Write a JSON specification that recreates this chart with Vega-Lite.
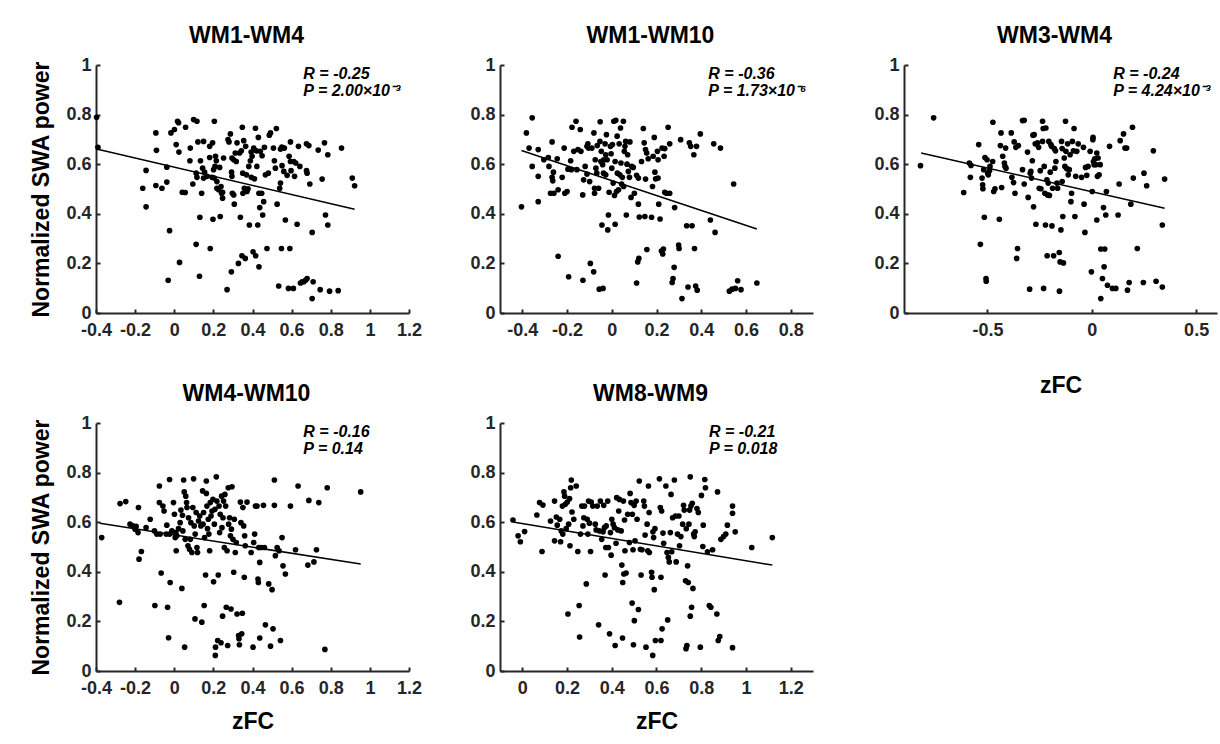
{
"$schema": "https://vega.github.io/schema/vega-lite/v6.json",
"background": "white",
"padding": {"left": 30, "top": 25, "right": 5, "bottom": 5},
"datasets": {
"p1": [{"x":-0.397,"y":0.789},{"x":-0.39,"y":0.668},{"x":-0.161,"y":0.503},{"x":-0.144,"y":0.575},{"x":-0.144,"y":0.428},{"x":-0.094,"y":0.726},{"x":-0.091,"y":0.656},{"x":-0.094,"y":0.514},{"x":-0.063,"y":0.503},{"x":-0.038,"y":0.588},{"x":-0.038,"y":0.528},{"x":-0.031,"y":0.132},{"x":-0.024,"y":0.332},{"x":-0.017,"y":0.726},{"x":0.001,"y":0.74},{"x":0.01,"y":0.679},{"x":0.024,"y":0.649},{"x":0.017,"y":0.773},{"x":0.022,"y":0.767},{"x":0.027,"y":0.204},{"x":0.041,"y":0.487},{"x":0.056,"y":0.486},{"x":0.058,"y":0.749},{"x":0.082,"y":0.665},{"x":0.08,"y":0.614},{"x":0.095,"y":0.52},{"x":0.099,"y":0.78},{"x":0.116,"y":0.773},{"x":0.112,"y":0.277},{"x":0.116,"y":0.547},{"x":0.112,"y":0.564},{"x":0.121,"y":0.69},{"x":0.129,"y":0.148},{"x":0.131,"y":0.386},{"x":0.134,"y":0.614},{"x":0.14,"y":0.483},{"x":0.15,"y":0.692},{"x":0.145,"y":0.584},{"x":0.155,"y":0.568},{"x":0.15,"y":0.544},{"x":0.167,"y":0.551},{"x":0.181,"y":0.627},{"x":0.181,"y":0.672},{"x":0.184,"y":0.26},{"x":0.193,"y":0.547},{"x":0.196,"y":0.686},{"x":0.198,"y":0.378},{"x":0.201,"y":0.578},{"x":0.205,"y":0.773},{"x":0.205,"y":0.544},{"x":0.208,"y":0.591},{"x":0.211,"y":0.632},{"x":0.215,"y":0.614},{"x":0.218,"y":0.53},{"x":0.218,"y":0.503},{"x":0.227,"y":0.497},{"x":0.232,"y":0.587},{"x":0.235,"y":0.389},{"x":0.239,"y":0.51},{"x":0.242,"y":0.483},{"x":0.247,"y":0.463},{"x":0.247,"y":0.487},{"x":0.252,"y":0.625},{"x":0.27,"y":0.094},{"x":0.275,"y":0.699},{"x":0.28,"y":0.69},{"x":0.287,"y":0.722},{"x":0.292,"y":0.166},{"x":0.295,"y":0.625},{"x":0.293,"y":0.568},{"x":0.295,"y":0.551},{"x":0.297,"y":0.483},{"x":0.304,"y":0.618},{"x":0.304,"y":0.476},{"x":0.307,"y":0.439},{"x":0.312,"y":0.645},{"x":0.317,"y":0.611},{"x":0.321,"y":0.686},{"x":0.328,"y":0.2},{"x":0.334,"y":0.645},{"x":0.338,"y":0.386},{"x":0.343,"y":0.654},{"x":0.346,"y":0.231},{"x":0.348,"y":0.749},{"x":0.35,"y":0.564},{"x":0.351,"y":0.483},{"x":0.355,"y":0.695},{"x":0.358,"y":0.503},{"x":0.363,"y":0.22},{"x":0.365,"y":0.672},{"x":0.369,"y":0.557},{"x":0.372,"y":0.49},{"x":0.377,"y":0.501},{"x":0.381,"y":0.591},{"x":0.384,"y":0.355},{"x":0.389,"y":0.614},{"x":0.393,"y":0.649},{"x":0.394,"y":0.547},{"x":0.398,"y":0.632},{"x":0.403,"y":0.247},{"x":0.406,"y":0.665},{"x":0.41,"y":0.541},{"x":0.415,"y":0.745},{"x":0.416,"y":0.231},{"x":0.42,"y":0.654},{"x":0.422,"y":0.591},{"x":0.427,"y":0.355},{"x":0.43,"y":0.708},{"x":0.433,"y":0.186},{"x":0.433,"y":0.483},{"x":0.437,"y":0.425},{"x":0.44,"y":0.652},{"x":0.447,"y":0.483},{"x":0.449,"y":0.634},{"x":0.452,"y":0.395},{"x":0.457,"y":0.449},{"x":0.461,"y":0.668},{"x":0.466,"y":0.557},{"x":0.474,"y":0.26},{"x":0.481,"y":0.564},{"x":0.486,"y":0.717},{"x":0.492,"y":0.726},{"x":0.507,"y":0.665},{"x":0.512,"y":0.614},{"x":0.517,"y":0.584},{"x":0.522,"y":0.744},{"x":0.526,"y":0.439},{"x":0.534,"y":0.109},{"x":0.539,"y":0.503},{"x":0.543,"y":0.661},{"x":0.543,"y":0.524},{"x":0.548,"y":0.26},{"x":0.55,"y":0.669},{"x":0.551,"y":0.594},{"x":0.56,"y":0.571},{"x":0.563,"y":0.665},{"x":0.568,"y":0.375},{"x":0.577,"y":0.555},{"x":0.584,"y":0.099},{"x":0.587,"y":0.632},{"x":0.591,"y":0.26},{"x":0.594,"y":0.69},{"x":0.594,"y":0.611},{"x":0.597,"y":0.574},{"x":0.609,"y":0.099},{"x":0.611,"y":0.611},{"x":0.615,"y":0.551},{"x":0.621,"y":0.605},{"x":0.628,"y":0.358},{"x":0.635,"y":0.672},{"x":0.642,"y":0.591},{"x":0.645,"y":0.121},{"x":0.654,"y":0.126},{"x":0.662,"y":0.126},{"x":0.671,"y":0.132},{"x":0.679,"y":0.139},{"x":0.676,"y":0.682},{"x":0.676,"y":0.574},{"x":0.688,"y":0.675},{"x":0.679,"y":0.564},{"x":0.693,"y":0.52},{"x":0.705,"y":0.325},{"x":0.705,"y":0.058},{"x":0.71,"y":0.126},{"x":0.736,"y":0.657},{"x":0.746,"y":0.094},{"x":0.756,"y":0.54},{"x":0.768,"y":0.686},{"x":0.773,"y":0.395},{"x":0.785,"y":0.638},{"x":0.785,"y":0.355},{"x":0.794,"y":0.088},{"x":0.838,"y":0.09},{"x":0.855,"y":0.665},{"x":0.91,"y":0.544},{"x":0.922,"y":0.513}],
"p2": [{"x":-0.404,"y":0.428},{"x":-0.382,"y":0.726},{"x":-0.37,"y":0.665},{"x":-0.356,"y":0.787},{"x":-0.356,"y":0.591},{"x":-0.329,"y":0.659},{"x":-0.329,"y":0.551},{"x":-0.329,"y":0.449},{"x":-0.304,"y":0.618},{"x":-0.284,"y":0.627},{"x":-0.281,"y":0.591},{"x":-0.274,"y":0.483},{"x":-0.267,"y":0.69},{"x":-0.267,"y":0.547},{"x":-0.264,"y":0.533},{"x":-0.261,"y":0.568},{"x":-0.259,"y":0.483},{"x":-0.244,"y":0.622},{"x":-0.24,"y":0.497},{"x":-0.24,"y":0.229},{"x":-0.222,"y":0.547},{"x":-0.213,"y":0.665},{"x":-0.21,"y":0.483},{"x":-0.2,"y":0.49},{"x":-0.196,"y":0.58},{"x":-0.193,"y":0.146},{"x":-0.184,"y":0.614},{"x":-0.181,"y":0.578},{"x":-0.178,"y":0.749},{"x":-0.17,"y":0.652},{"x":-0.16,"y":0.773},{"x":-0.156,"y":0.578},{"x":-0.151,"y":0.659},{"x":-0.141,"y":0.74},{"x":-0.138,"y":0.652},{"x":-0.13,"y":0.476},{"x":-0.129,"y":0.132},{"x":-0.126,"y":0.537},{"x":-0.119,"y":0.591},{"x":-0.111,"y":0.56},{"x":-0.111,"y":0.672},{"x":-0.107,"y":0.682},{"x":-0.104,"y":0.665},{"x":-0.099,"y":0.53},{"x":-0.096,"y":0.2},{"x":-0.089,"y":0.665},{"x":-0.081,"y":0.166},{"x":-0.08,"y":0.726},{"x":-0.077,"y":0.503},{"x":-0.077,"y":0.483},{"x":-0.074,"y":0.618},{"x":-0.071,"y":0.584},{"x":-0.067,"y":0.564},{"x":-0.065,"y":0.675},{"x":-0.059,"y":0.503},{"x":-0.056,"y":0.096},{"x":-0.053,"y":0.692},{"x":-0.052,"y":0.771},{"x":-0.049,"y":0.611},{"x":-0.047,"y":0.652},{"x":-0.044,"y":0.355},{"x":-0.041,"y":0.598},{"x":-0.039,"y":0.099},{"x":-0.037,"y":0.564},{"x":-0.036,"y":0.618},{"x":-0.03,"y":0.682},{"x":-0.027,"y":0.638},{"x":-0.027,"y":0.557},{"x":-0.024,"y":0.719},{"x":-0.021,"y":0.618},{"x":-0.018,"y":0.335},{"x":-0.015,"y":0.395},{"x":-0.012,"y":0.487},{"x":-0.006,"y":0.672},{"x":-0.003,"y":0.642},{"x":0.0,"y":0.584},{"x":0.003,"y":0.679},{"x":0.006,"y":0.524},{"x":0.009,"y":0.773},{"x":0.012,"y":0.474},{"x":0.015,"y":0.358},{"x":0.015,"y":0.611},{"x":0.018,"y":0.777},{"x":0.021,"y":0.49},{"x":0.024,"y":0.713},{"x":0.025,"y":0.564},{"x":0.03,"y":0.497},{"x":0.033,"y":0.682},{"x":0.036,"y":0.557},{"x":0.039,"y":0.746},{"x":0.041,"y":0.605},{"x":0.044,"y":0.52},{"x":0.047,"y":0.547},{"x":0.052,"y":0.773},{"x":0.053,"y":0.51},{"x":0.056,"y":0.652},{"x":0.059,"y":0.672},{"x":0.062,"y":0.692},{"x":0.065,"y":0.395},{"x":0.068,"y":0.6},{"x":0.071,"y":0.638},{"x":0.074,"y":0.571},{"x":0.079,"y":0.547},{"x":0.081,"y":0.69},{"x":0.086,"y":0.466},{"x":0.089,"y":0.591},{"x":0.096,"y":0.587},{"x":0.101,"y":0.483},{"x":0.111,"y":0.555},{"x":0.111,"y":0.121},{"x":0.116,"y":0.206},{"x":0.119,"y":0.544},{"x":0.119,"y":0.439},{"x":0.121,"y":0.22},{"x":0.123,"y":0.387},{"x":0.133,"y":0.611},{"x":0.141,"y":0.744},{"x":0.145,"y":0.686},{"x":0.148,"y":0.389},{"x":0.151,"y":0.54},{"x":0.151,"y":0.659},{"x":0.156,"y":0.645},{"x":0.157,"y":0.256},{"x":0.163,"y":0.622},{"x":0.178,"y":0.386},{"x":0.182,"y":0.51},{"x":0.185,"y":0.632},{"x":0.19,"y":0.708},{"x":0.193,"y":0.568},{"x":0.196,"y":0.541},{"x":0.204,"y":0.652},{"x":0.207,"y":0.618},{"x":0.207,"y":0.544},{"x":0.21,"y":0.439},{"x":0.216,"y":0.379},{"x":0.222,"y":0.25},{"x":0.225,"y":0.665},{"x":0.228,"y":0.238},{"x":0.231,"y":0.258},{"x":0.234,"y":0.632},{"x":0.237,"y":0.663},{"x":0.237,"y":0.487},{"x":0.244,"y":0.483},{"x":0.252,"y":0.749},{"x":0.259,"y":0.483},{"x":0.259,"y":0.682},{"x":0.27,"y":0.123},{"x":0.274,"y":0.139},{"x":0.279,"y":0.184},{"x":0.281,"y":0.425},{"x":0.299,"y":0.274},{"x":0.301,"y":0.26},{"x":0.308,"y":0.699},{"x":0.314,"y":0.058},{"x":0.335,"y":0.352},{"x":0.341,"y":0.105},{"x":0.347,"y":0.686},{"x":0.353,"y":0.672},{"x":0.359,"y":0.352},{"x":0.367,"y":0.638},{"x":0.37,"y":0.26},{"x":0.375,"y":0.109},{"x":0.379,"y":0.672},{"x":0.382,"y":0.092},{"x":0.396,"y":0.722},{"x":0.441,"y":0.375},{"x":0.456,"y":0.682},{"x":0.462,"y":0.325},{"x":0.486,"y":0.665},{"x":0.526,"y":0.088},{"x":0.538,"y":0.096},{"x":0.545,"y":0.52},{"x":0.553,"y":0.099},{"x":0.563,"y":0.13},{"x":0.578,"y":0.094},{"x":0.649,"y":0.121}],
"p3": [{"x":-0.821,"y":0.594},{"x":-0.758,"y":0.787},{"x":-0.614,"y":0.486},{"x":-0.587,"y":0.605},{"x":-0.582,"y":0.547},{"x":-0.579,"y":0.595},{"x":-0.542,"y":0.679},{"x":-0.534,"y":0.277},{"x":-0.526,"y":0.544},{"x":-0.523,"y":0.517},{"x":-0.522,"y":0.501},{"x":-0.518,"y":0.578},{"x":-0.515,"y":0.386},{"x":-0.512,"y":0.627},{"x":-0.507,"y":0.139},{"x":-0.506,"y":0.128},{"x":-0.502,"y":0.618},{"x":-0.499,"y":0.564},{"x":-0.496,"y":0.557},{"x":-0.49,"y":0.574},{"x":-0.488,"y":0.591},{"x":-0.475,"y":0.611},{"x":-0.474,"y":0.769},{"x":-0.47,"y":0.49},{"x":-0.464,"y":0.501},{"x":-0.443,"y":0.378},{"x":-0.438,"y":0.675},{"x":-0.435,"y":0.726},{"x":-0.432,"y":0.506},{"x":-0.427,"y":0.632},{"x":-0.419,"y":0.605},{"x":-0.416,"y":0.591},{"x":-0.413,"y":0.665},{"x":-0.411,"y":0.584},{"x":-0.386,"y":0.726},{"x":-0.383,"y":0.547},{"x":-0.375,"y":0.526},{"x":-0.372,"y":0.69},{"x":-0.368,"y":0.483},{"x":-0.364,"y":0.668},{"x":-0.36,"y":0.22},{"x":-0.356,"y":0.26},{"x":-0.352,"y":0.675},{"x":-0.332,"y":0.578},{"x":-0.332,"y":0.776},{"x":-0.324,"y":0.777},{"x":-0.324,"y":0.52},{"x":-0.308,"y":0.649},{"x":-0.305,"y":0.466},{"x":-0.298,"y":0.096},{"x":-0.295,"y":0.564},{"x":-0.292,"y":0.571},{"x":-0.289,"y":0.544},{"x":-0.285,"y":0.614},{"x":-0.282,"y":0.717},{"x":-0.279,"y":0.428},{"x":-0.276,"y":0.719},{"x":-0.271,"y":0.682},{"x":-0.268,"y":0.358},{"x":-0.26,"y":0.686},{"x":-0.255,"y":0.668},{"x":-0.252,"y":0.503},{"x":-0.247,"y":0.574},{"x":-0.244,"y":0.501},{"x":-0.236,"y":0.773},{"x":-0.236,"y":0.692},{"x":-0.233,"y":0.744},{"x":-0.231,"y":0.099},{"x":-0.228,"y":0.591},{"x":-0.225,"y":0.483},{"x":-0.222,"y":0.355},{"x":-0.22,"y":0.746},{"x":-0.215,"y":0.537},{"x":-0.214,"y":0.231},{"x":-0.212,"y":0.476},{"x":-0.209,"y":0.524},{"x":-0.206,"y":0.692},{"x":-0.203,"y":0.474},{"x":-0.199,"y":0.568},{"x":-0.196,"y":0.679},{"x":-0.193,"y":0.672},{"x":-0.191,"y":0.351},{"x":-0.188,"y":0.503},{"x":-0.183,"y":0.231},{"x":-0.18,"y":0.663},{"x":-0.177,"y":0.584},{"x":-0.174,"y":0.654},{"x":-0.172,"y":0.611},{"x":-0.167,"y":0.524},{"x":-0.164,"y":0.503},{"x":-0.156,"y":0.244},{"x":-0.155,"y":0.088},{"x":-0.152,"y":0.206},{"x":-0.148,"y":0.335},{"x":-0.145,"y":0.692},{"x":-0.142,"y":0.53},{"x":-0.142,"y":0.663},{"x":-0.139,"y":0.389},{"x":-0.136,"y":0.202},{"x":-0.132,"y":0.625},{"x":-0.129,"y":0.591},{"x":-0.126,"y":0.773},{"x":-0.124,"y":0.652},{"x":-0.12,"y":0.582},{"x":-0.116,"y":0.682},{"x":-0.113,"y":0.557},{"x":-0.108,"y":0.578},{"x":-0.104,"y":0.638},{"x":-0.1,"y":0.449},{"x":-0.097,"y":0.483},{"x":-0.093,"y":0.692},{"x":-0.088,"y":0.654},{"x":-0.085,"y":0.744},{"x":-0.081,"y":0.389},{"x":-0.077,"y":0.551},{"x":-0.072,"y":0.652},{"x":-0.065,"y":0.682},{"x":-0.049,"y":0.547},{"x":-0.04,"y":0.668},{"x":-0.037,"y":0.439},{"x":-0.033,"y":0.325},{"x":-0.03,"y":0.587},{"x":-0.024,"y":0.555},{"x":-0.018,"y":0.591},{"x":-0.008,"y":0.652},{"x":-0.002,"y":0.166},{"x":0.002,"y":0.49},{"x":0.005,"y":0.699},{"x":0.006,"y":0.708},{"x":0.008,"y":0.611},{"x":0.011,"y":0.598},{"x":0.014,"y":0.622},{"x":0.019,"y":0.598},{"x":0.024,"y":0.375},{"x":0.024,"y":0.645},{"x":0.027,"y":0.551},{"x":0.03,"y":0.625},{"x":0.035,"y":0.557},{"x":0.04,"y":0.598},{"x":0.043,"y":0.058},{"x":0.043,"y":0.258},{"x":0.051,"y":0.139},{"x":0.056,"y":0.425},{"x":0.059,"y":0.186},{"x":0.062,"y":0.258},{"x":0.067,"y":0.395},{"x":0.07,"y":0.49},{"x":0.075,"y":0.112},{"x":0.085,"y":0.672},{"x":0.099,"y":0.099},{"x":0.115,"y":0.099},{"x":0.126,"y":0.395},{"x":0.131,"y":0.52},{"x":0.136,"y":0.695},{"x":0.152,"y":0.722},{"x":0.159,"y":0.665},{"x":0.167,"y":0.665},{"x":0.171,"y":0.092},{"x":0.179,"y":0.123},{"x":0.187,"y":0.439},{"x":0.195,"y":0.749},{"x":0.199,"y":0.544},{"x":0.218,"y":0.26},{"x":0.247,"y":0.123},{"x":0.25,"y":0.564},{"x":0.263,"y":0.513},{"x":0.295,"y":0.654},{"x":0.308,"y":0.128},{"x":0.338,"y":0.355},{"x":0.338,"y":0.105},{"x":0.349,"y":0.54}],
"p4": [{"x":-0.371,"y":0.538},{"x":-0.28,"y":0.277},{"x":-0.277,"y":0.675},{"x":-0.248,"y":0.683},{"x":-0.226,"y":0.592},{"x":-0.212,"y":0.585},{"x":-0.2,"y":0.572},{"x":-0.195,"y":0.583},{"x":-0.185,"y":0.558},{"x":-0.183,"y":0.659},{"x":-0.18,"y":0.451},{"x":-0.168,"y":0.482},{"x":-0.144,"y":0.578},{"x":-0.123,"y":0.612},{"x":-0.101,"y":0.565},{"x":-0.099,"y":0.264},{"x":-0.089,"y":0.552},{"x":-0.076,"y":0.746},{"x":-0.076,"y":0.679},{"x":-0.072,"y":0.552},{"x":-0.067,"y":0.395},{"x":-0.058,"y":0.665},{"x":-0.052,"y":0.645},{"x":-0.041,"y":0.552},{"x":-0.038,"y":0.588},{"x":-0.034,"y":0.257},{"x":-0.029,"y":0.134},{"x":-0.024,"y":0.772},{"x":-0.024,"y":0.552},{"x":-0.021,"y":0.357},{"x":-0.012,"y":0.565},{"x":-0.004,"y":0.679},{"x":0.001,"y":0.632},{"x":0.005,"y":0.538},{"x":0.008,"y":0.558},{"x":0.01,"y":0.485},{"x":0.013,"y":0.545},{"x":0.022,"y":0.574},{"x":0.03,"y":0.598},{"x":0.034,"y":0.649},{"x":0.039,"y":0.333},{"x":0.042,"y":0.628},{"x":0.044,"y":0.565},{"x":0.048,"y":0.77},{"x":0.051,"y":0.722},{"x":0.053,"y":0.096},{"x":0.056,"y":0.531},{"x":0.059,"y":0.705},{"x":0.063,"y":0.679},{"x":0.065,"y":0.659},{"x":0.07,"y":0.505},{"x":0.073,"y":0.618},{"x":0.078,"y":0.491},{"x":0.082,"y":0.531},{"x":0.085,"y":0.598},{"x":0.09,"y":0.478},{"x":0.095,"y":0.659},{"x":0.099,"y":0.775},{"x":0.102,"y":0.585},{"x":0.106,"y":0.21},{"x":0.107,"y":0.552},{"x":0.112,"y":0.639},{"x":0.116,"y":0.498},{"x":0.119,"y":0.478},{"x":0.124,"y":0.605},{"x":0.13,"y":0.625},{"x":0.136,"y":0.585},{"x":0.141,"y":0.197},{"x":0.145,"y":0.726},{"x":0.147,"y":0.592},{"x":0.15,"y":0.639},{"x":0.153,"y":0.264},{"x":0.155,"y":0.538},{"x":0.16,"y":0.387},{"x":0.164,"y":0.766},{"x":0.164,"y":0.716},{"x":0.167,"y":0.665},{"x":0.17,"y":0.574},{"x":0.174,"y":0.612},{"x":0.177,"y":0.552},{"x":0.181,"y":0.485},{"x":0.184,"y":0.679},{"x":0.188,"y":0.625},{"x":0.193,"y":0.645},{"x":0.198,"y":0.692},{"x":0.201,"y":0.36},{"x":0.205,"y":0.592},{"x":0.208,"y":0.652},{"x":0.21,"y":0.063},{"x":0.211,"y":0.096},{"x":0.215,"y":0.783},{"x":0.218,"y":0.685},{"x":0.222,"y":0.123},{"x":0.225,"y":0.387},{"x":0.229,"y":0.665},{"x":0.232,"y":0.558},{"x":0.235,"y":0.632},{"x":0.239,"y":0.114},{"x":0.242,"y":0.705},{"x":0.244,"y":0.578},{"x":0.247,"y":0.221},{"x":0.249,"y":0.618},{"x":0.252,"y":0.685},{"x":0.256,"y":0.498},{"x":0.259,"y":0.712},{"x":0.263,"y":0.665},{"x":0.266,"y":0.257},{"x":0.27,"y":0.485},{"x":0.273,"y":0.103},{"x":0.276,"y":0.739},{"x":0.278,"y":0.592},{"x":0.283,"y":0.618},{"x":0.287,"y":0.545},{"x":0.29,"y":0.25},{"x":0.292,"y":0.572},{"x":0.295,"y":0.743},{"x":0.3,"y":0.531},{"x":0.304,"y":0.398},{"x":0.307,"y":0.612},{"x":0.312,"y":0.478},{"x":0.317,"y":0.518},{"x":0.321,"y":0.23},{"x":0.329,"y":0.143},{"x":0.331,"y":0.13},{"x":0.333,"y":0.106},{"x":0.338,"y":0.681},{"x":0.341,"y":0.598},{"x":0.345,"y":0.15},{"x":0.348,"y":0.233},{"x":0.351,"y":0.659},{"x":0.355,"y":0.585},{"x":0.358,"y":0.378},{"x":0.36,"y":0.545},{"x":0.363,"y":0.505},{"x":0.372,"y":0.681},{"x":0.393,"y":0.478},{"x":0.403,"y":0.096},{"x":0.406,"y":0.518},{"x":0.411,"y":0.552},{"x":0.415,"y":0.665},{"x":0.423,"y":0.665},{"x":0.428,"y":0.371},{"x":0.43,"y":0.357},{"x":0.432,"y":0.498},{"x":0.437,"y":0.133},{"x":0.437,"y":0.438},{"x":0.444,"y":0.498},{"x":0.456,"y":0.668},{"x":0.461,"y":0.498},{"x":0.466,"y":0.186},{"x":0.483,"y":0.351},{"x":0.492,"y":0.1},{"x":0.5,"y":0.328},{"x":0.505,"y":0.17},{"x":0.512,"y":0.77},{"x":0.512,"y":0.668},{"x":0.517,"y":0.465},{"x":0.526,"y":0.498},{"x":0.536,"y":0.485},{"x":0.543,"y":0.123},{"x":0.551,"y":0.538},{"x":0.556,"y":0.424},{"x":0.568,"y":0.391},{"x":0.594,"y":0.665},{"x":0.62,"y":0.489},{"x":0.633,"y":0.746},{"x":0.683,"y":0.427},{"x":0.688,"y":0.688},{"x":0.714,"y":0.44},{"x":0.727,"y":0.489},{"x":0.739,"y":0.679},{"x":0.77,"y":0.087},{"x":0.782,"y":0.739},{"x":0.953,"y":0.722}],
"p5": [{"x":-0.042,"y":0.609},{"x":-0.019,"y":0.545},{"x":-0.009,"y":0.521},{"x":0.01,"y":0.562},{"x":0.065,"y":0.629},{"x":0.077,"y":0.679},{"x":0.088,"y":0.482},{"x":0.092,"y":0.669},{"x":0.126,"y":0.605},{"x":0.144,"y":0.685},{"x":0.144,"y":0.525},{"x":0.152,"y":0.621},{"x":0.156,"y":0.588},{"x":0.167,"y":0.612},{"x":0.171,"y":0.521},{"x":0.174,"y":0.565},{"x":0.179,"y":0.665},{"x":0.181,"y":0.552},{"x":0.186,"y":0.722},{"x":0.189,"y":0.705},{"x":0.192,"y":0.672},{"x":0.196,"y":0.574},{"x":0.201,"y":0.681},{"x":0.204,"y":0.23},{"x":0.207,"y":0.592},{"x":0.211,"y":0.695},{"x":0.213,"y":0.505},{"x":0.216,"y":0.739},{"x":0.219,"y":0.77},{"x":0.222,"y":0.641},{"x":0.23,"y":0.612},{"x":0.241,"y":0.746},{"x":0.248,"y":0.482},{"x":0.254,"y":0.264},{"x":0.256,"y":0.137},{"x":0.26,"y":0.552},{"x":0.266,"y":0.665},{"x":0.271,"y":0.585},{"x":0.275,"y":0.618},{"x":0.278,"y":0.665},{"x":0.286,"y":0.351},{"x":0.29,"y":0.612},{"x":0.293,"y":0.552},{"x":0.296,"y":0.685},{"x":0.3,"y":0.596},{"x":0.305,"y":0.482},{"x":0.308,"y":0.681},{"x":0.315,"y":0.665},{"x":0.326,"y":0.592},{"x":0.33,"y":0.569},{"x":0.335,"y":0.665},{"x":0.341,"y":0.186},{"x":0.345,"y":0.565},{"x":0.349,"y":0.685},{"x":0.355,"y":0.531},{"x":0.361,"y":0.561},{"x":0.364,"y":0.668},{"x":0.367,"y":0.578},{"x":0.37,"y":0.387},{"x":0.373,"y":0.498},{"x":0.375,"y":0.585},{"x":0.382,"y":0.685},{"x":0.385,"y":0.498},{"x":0.39,"y":0.15},{"x":0.394,"y":0.558},{"x":0.397,"y":0.467},{"x":0.4,"y":0.612},{"x":0.406,"y":0.592},{"x":0.412,"y":0.578},{"x":0.415,"y":0.103},{"x":0.419,"y":0.515},{"x":0.422,"y":0.699},{"x":0.427,"y":0.569},{"x":0.431,"y":0.645},{"x":0.434,"y":0.692},{"x":0.442,"y":0.565},{"x":0.445,"y":0.427},{"x":0.448,"y":0.133},{"x":0.449,"y":0.357},{"x":0.452,"y":0.685},{"x":0.454,"y":0.391},{"x":0.457,"y":0.609},{"x":0.459,"y":0.485},{"x":0.464,"y":0.395},{"x":0.471,"y":0.632},{"x":0.479,"y":0.518},{"x":0.482,"y":0.716},{"x":0.486,"y":0.679},{"x":0.491,"y":0.274},{"x":0.492,"y":0.632},{"x":0.495,"y":0.489},{"x":0.497,"y":0.106},{"x":0.5,"y":0.668},{"x":0.501,"y":0.203},{"x":0.504,"y":0.525},{"x":0.509,"y":0.685},{"x":0.513,"y":0.612},{"x":0.519,"y":0.248},{"x":0.523,"y":0.766},{"x":0.528,"y":0.491},{"x":0.531,"y":0.387},{"x":0.535,"y":0.489},{"x":0.543,"y":0.685},{"x":0.546,"y":0.665},{"x":0.549,"y":0.548},{"x":0.553,"y":0.096},{"x":0.558,"y":0.592},{"x":0.561,"y":0.485},{"x":0.564,"y":0.746},{"x":0.567,"y":0.639},{"x":0.568,"y":0.478},{"x":0.578,"y":0.398},{"x":0.58,"y":0.378},{"x":0.583,"y":0.063},{"x":0.584,"y":0.561},{"x":0.587,"y":0.538},{"x":0.59,"y":0.328},{"x":0.593,"y":0.574},{"x":0.595,"y":0.123},{"x":0.613,"y":0.775},{"x":0.617,"y":0.659},{"x":0.62,"y":0.378},{"x":0.62,"y":0.123},{"x":0.623,"y":0.645},{"x":0.625,"y":0.17},{"x":0.629,"y":0.556},{"x":0.632,"y":0.515},{"x":0.642,"y":0.746},{"x":0.647,"y":0.478},{"x":0.65,"y":0.206},{"x":0.653,"y":0.458},{"x":0.657,"y":0.44},{"x":0.662,"y":0.558},{"x":0.665,"y":0.712},{"x":0.668,"y":0.481},{"x":0.672,"y":0.618},{"x":0.68,"y":0.77},{"x":0.685,"y":0.625},{"x":0.688,"y":0.44},{"x":0.694,"y":0.552},{"x":0.7,"y":0.625},{"x":0.703,"y":0.505},{"x":0.709,"y":0.542},{"x":0.717,"y":0.592},{"x":0.721,"y":0.668},{"x":0.724,"y":0.649},{"x":0.73,"y":0.364},{"x":0.732,"y":0.09},{"x":0.733,"y":0.574},{"x":0.736,"y":0.103},{"x":0.739,"y":0.424},{"x":0.742,"y":0.357},{"x":0.745,"y":0.592},{"x":0.748,"y":0.649},{"x":0.751,"y":0.783},{"x":0.751,"y":0.221},{"x":0.754,"y":0.665},{"x":0.757,"y":0.257},{"x":0.76,"y":0.676},{"x":0.763,"y":0.333},{"x":0.766,"y":0.552},{"x":0.769,"y":0.542},{"x":0.773,"y":0.561},{"x":0.781,"y":0.655},{"x":0.787,"y":0.639},{"x":0.796,"y":0.096},{"x":0.801,"y":0.708},{"x":0.807,"y":0.502},{"x":0.809,"y":0.588},{"x":0.816,"y":0.772},{"x":0.819,"y":0.739},{"x":0.828,"y":0.481},{"x":0.836,"y":0.264},{"x":0.843,"y":0.257},{"x":0.851,"y":0.489},{"x":0.87,"y":0.23},{"x":0.873,"y":0.722},{"x":0.876,"y":0.123},{"x":0.883,"y":0.139},{"x":0.888,"y":0.531},{"x":0.9,"y":0.542},{"x":0.91,"y":0.552},{"x":0.917,"y":0.588},{"x":0.94,"y":0.665},{"x":0.94,"y":0.636},{"x":0.94,"y":0.094},{"x":0.952,"y":0.561},{"x":1.026,"y":0.498},{"x":1.118,"y":0.538}],
"lines": [{"panel":"p1","x":-0.397,"y":0.661},{"panel":"p1","x":0.922,"y":0.418},{"panel":"p2","x":-0.404,"y":0.655},{"panel":"p2","x":0.649,"y":0.339},{"panel":"p3","x":-0.818,"y":0.645},{"panel":"p3","x":0.349,"y":0.422},{"panel":"p4","x":-0.38,"y":0.596},{"panel":"p4","x":0.953,"y":0.431},{"panel":"p5","x":-0.042,"y":0.601},{"panel":"p5","x":1.118,"y":0.427}],
"ann": [{"panel":"p1","r":"R = -0.25","p":"P = 2.00×10⁻³"},{"panel":"p2","r":"R = -0.36","p":"P = 1.73×10⁻⁶"},{"panel":"p3","r":"R = -0.24","p":"P = 4.24×10⁻³"},{"panel":"p4","r":"R = -0.16","p":"P = 0.14"},{"panel":"p5","r":"R = -0.21","p":"P = 0.018"}]
},
"config": {
"view": {"stroke": null},
"font": "Liberation Sans",
"axis": {"grid": false, "tickCount": 20, "domainColor": "#262626", "domainWidth": 2, "tickColor": "#262626", "tickWidth": 2, "tickSize": -4, "labelFont": "Liberation Sans", "labelFontSize": 18, "labelFontWeight": "bold", "labelColor": "#262626", "labelOverlap": false, "labelFlush": false, "labelExpr": "'' + datum.value", "titleFont": "Liberation Sans", "titleFontSize": 23, "titleFontWeight": "bold", "titleColor": "black"},
"axisY": {"titlePadding": 12, "labelPadding": 9},
"axisX": {"titlePadding": 13, "labelPadding": 12},
"title": {"font": "Liberation Sans", "fontSize": 23, "fontWeight": "bold", "color": "black", "anchor": "middle", "frame": "group", "offset": 8, "dx": -6}
},
"bounds": "flush",
"columns": 3,
"spacing": {"row": 110, "column": 91},
"concat": [
{"title": {"text": "WM1-WM4"}, "width": 313, "height": 248, "layer": [
{"data": {"name": "p1"}, "mark": {"type": "circle", "size": 32, "color": "black", "opacity": 1}, "encoding": {"x": {"field": "x", "type": "quantitative", "scale": {"domain": [-0.4, 1.2], "nice": false, "zero": false}, "axis": {"values": [-0.4, -0.2, 0, 0.2, 0.4, 0.6, 0.8, 1, 1.2], "tickCount": 20, "title": null, "labelOverlap": false, "labelBound": false}}, "y": {"field": "y", "type": "quantitative", "scale": {"domain": [0, 1], "nice": false, "zero": false}, "axis": {"values": [0, 0.2, 0.4, 0.6, 0.8, 1], "tickCount": 20, "title": "Normalized SWA power", "labelOverlap": false}}}},
{"data": {"name": "lines"}, "transform": [{"filter": "datum.panel === 'p1'"}], "mark": {"type": "line", "color": "black", "strokeWidth": 1.5}, "encoding": {"x": {"field": "x", "type": "quantitative"}, "y": {"field": "y", "type": "quantitative"}}},
{"data": {"name": "ann"}, "transform": [{"filter": "datum.panel === 'p1'"}], "mark": {"type": "text", "align": "left", "baseline": "alphabetic", "fontStyle": "italic", "fontWeight": "bold", "fontSize": 16, "font": "Liberation Sans", "color": "black"}, "encoding": {"x": {"datum": 0.66, "type": "quantitative"}, "y": {"datum": 0.945, "type": "quantitative"}, "text": {"field": "r"}}},
{"data": {"name": "ann"}, "transform": [{"filter": "datum.panel === 'p1'"}], "mark": {"type": "text", "align": "left", "baseline": "alphabetic", "fontStyle": "italic", "fontWeight": "bold", "fontSize": 16, "font": "Liberation Sans", "color": "black"}, "encoding": {"x": {"datum": 0.66, "type": "quantitative"}, "y": {"datum": 0.877, "type": "quantitative"}, "text": {"field": "p"}}}
]},
{"title": {"text": "WM1-WM10"}, "width": 313, "height": 248, "layer": [
{"data": {"name": "p2"}, "mark": {"type": "circle", "size": 32, "color": "black", "opacity": 1}, "encoding": {"x": {"field": "x", "type": "quantitative", "scale": {"domain": [-0.5, 0.9], "nice": false, "zero": false}, "axis": {"values": [-0.4, -0.2, 0, 0.2, 0.4, 0.6, 0.8], "tickCount": 20, "title": null, "labelOverlap": false, "labelBound": false}}, "y": {"field": "y", "type": "quantitative", "scale": {"domain": [0, 1], "nice": false, "zero": false}, "axis": {"values": [0, 0.2, 0.4, 0.6, 0.8, 1], "tickCount": 20, "title": null, "labelOverlap": false}}}},
{"data": {"name": "lines"}, "transform": [{"filter": "datum.panel === 'p2'"}], "mark": {"type": "line", "color": "black", "strokeWidth": 1.5}, "encoding": {"x": {"field": "x", "type": "quantitative"}, "y": {"field": "y", "type": "quantitative"}}},
{"data": {"name": "ann"}, "transform": [{"filter": "datum.panel === 'p2'"}], "mark": {"type": "text", "align": "left", "baseline": "alphabetic", "fontStyle": "italic", "fontWeight": "bold", "fontSize": 16, "font": "Liberation Sans", "color": "black"}, "encoding": {"x": {"datum": 0.432, "type": "quantitative"}, "y": {"datum": 0.945, "type": "quantitative"}, "text": {"field": "r"}}},
{"data": {"name": "ann"}, "transform": [{"filter": "datum.panel === 'p2'"}], "mark": {"type": "text", "align": "left", "baseline": "alphabetic", "fontStyle": "italic", "fontWeight": "bold", "fontSize": 16, "font": "Liberation Sans", "color": "black"}, "encoding": {"x": {"datum": 0.432, "type": "quantitative"}, "y": {"datum": 0.877, "type": "quantitative"}, "text": {"field": "p"}}}
]},
{"title": {"text": "WM3-WM4"}, "width": 313, "height": 248, "layer": [
{"data": {"name": "p3"}, "mark": {"type": "circle", "size": 32, "color": "black", "opacity": 1}, "encoding": {"x": {"field": "x", "type": "quantitative", "scale": {"domain": [-0.9, 0.6], "nice": false, "zero": false}, "axis": {"values": [-0.5, 0, 0.5], "tickCount": 20, "title": "zFC", "titlePadding": 35, "labelOverlap": false, "labelBound": false}}, "y": {"field": "y", "type": "quantitative", "scale": {"domain": [0, 1], "nice": false, "zero": false}, "axis": {"values": [0, 0.2, 0.4, 0.6, 0.8, 1], "tickCount": 20, "title": null, "labelOverlap": false}}}},
{"data": {"name": "lines"}, "transform": [{"filter": "datum.panel === 'p3'"}], "mark": {"type": "line", "color": "black", "strokeWidth": 1.5}, "encoding": {"x": {"field": "x", "type": "quantitative"}, "y": {"field": "y", "type": "quantitative"}}},
{"data": {"name": "ann"}, "transform": [{"filter": "datum.panel === 'p3'"}], "mark": {"type": "text", "align": "left", "baseline": "alphabetic", "fontStyle": "italic", "fontWeight": "bold", "fontSize": 16, "font": "Liberation Sans", "color": "black"}, "encoding": {"x": {"datum": 0.103, "type": "quantitative"}, "y": {"datum": 0.945, "type": "quantitative"}, "text": {"field": "r"}}},
{"data": {"name": "ann"}, "transform": [{"filter": "datum.panel === 'p3'"}], "mark": {"type": "text", "align": "left", "baseline": "alphabetic", "fontStyle": "italic", "fontWeight": "bold", "fontSize": 16, "font": "Liberation Sans", "color": "black"}, "encoding": {"x": {"datum": 0.103, "type": "quantitative"}, "y": {"datum": 0.877, "type": "quantitative"}, "text": {"field": "p"}}}
]},
{"title": {"text": "WM4-WM10"}, "width": 313, "height": 248, "layer": [
{"data": {"name": "p4"}, "mark": {"type": "circle", "size": 32, "color": "black", "opacity": 1}, "encoding": {"x": {"field": "x", "type": "quantitative", "scale": {"domain": [-0.4, 1.2], "nice": false, "zero": false}, "axis": {"values": [-0.4, -0.2, 0, 0.2, 0.4, 0.6, 0.8, 1, 1.2], "tickCount": 20, "title": "zFC", "labelOverlap": false, "labelBound": false}}, "y": {"field": "y", "type": "quantitative", "scale": {"domain": [0, 1], "nice": false, "zero": false}, "axis": {"values": [0, 0.2, 0.4, 0.6, 0.8, 1], "tickCount": 20, "title": "Normalized SWA power", "labelOverlap": false}}}},
{"data": {"name": "lines"}, "transform": [{"filter": "datum.panel === 'p4'"}], "mark": {"type": "line", "color": "black", "strokeWidth": 1.5}, "encoding": {"x": {"field": "x", "type": "quantitative"}, "y": {"field": "y", "type": "quantitative"}}},
{"data": {"name": "ann"}, "transform": [{"filter": "datum.panel === 'p4'"}], "mark": {"type": "text", "align": "left", "baseline": "alphabetic", "fontStyle": "italic", "fontWeight": "bold", "fontSize": 16, "font": "Liberation Sans", "color": "black"}, "encoding": {"x": {"datum": 0.66, "type": "quantitative"}, "y": {"datum": 0.945, "type": "quantitative"}, "text": {"field": "r"}}},
{"data": {"name": "ann"}, "transform": [{"filter": "datum.panel === 'p4'"}], "mark": {"type": "text", "align": "left", "baseline": "alphabetic", "fontStyle": "italic", "fontWeight": "bold", "fontSize": 16, "font": "Liberation Sans", "color": "black"}, "encoding": {"x": {"datum": 0.66, "type": "quantitative"}, "y": {"datum": 0.877, "type": "quantitative"}, "text": {"field": "p"}}}
]},
{"title": {"text": "WM8-WM9"}, "width": 313, "height": 248, "layer": [
{"data": {"name": "p5"}, "mark": {"type": "circle", "size": 32, "color": "black", "opacity": 1}, "encoding": {"x": {"field": "x", "type": "quantitative", "scale": {"domain": [-0.1, 1.3], "nice": false, "zero": false}, "axis": {"values": [0, 0.2, 0.4, 0.6, 0.8, 1, 1.2], "tickCount": 20, "title": "zFC", "labelOverlap": false, "labelBound": false}}, "y": {"field": "y", "type": "quantitative", "scale": {"domain": [0, 1], "nice": false, "zero": false}, "axis": {"values": [0, 0.2, 0.4, 0.6, 0.8, 1], "tickCount": 20, "title": null, "labelOverlap": false}}}},
{"data": {"name": "lines"}, "transform": [{"filter": "datum.panel === 'p5'"}], "mark": {"type": "line", "color": "black", "strokeWidth": 1.5}, "encoding": {"x": {"field": "x", "type": "quantitative"}, "y": {"field": "y", "type": "quantitative"}}},
{"data": {"name": "ann"}, "transform": [{"filter": "datum.panel === 'p5'"}], "mark": {"type": "text", "align": "left", "baseline": "alphabetic", "fontStyle": "italic", "fontWeight": "bold", "fontSize": 16, "font": "Liberation Sans", "color": "black"}, "encoding": {"x": {"datum": 0.835, "type": "quantitative"}, "y": {"datum": 0.945, "type": "quantitative"}, "text": {"field": "r"}}},
{"data": {"name": "ann"}, "transform": [{"filter": "datum.panel === 'p5'"}], "mark": {"type": "text", "align": "left", "baseline": "alphabetic", "fontStyle": "italic", "fontWeight": "bold", "fontSize": 16, "font": "Liberation Sans", "color": "black"}, "encoding": {"x": {"datum": 0.835, "type": "quantitative"}, "y": {"datum": 0.877, "type": "quantitative"}, "text": {"field": "p"}}}
]}
]
}
